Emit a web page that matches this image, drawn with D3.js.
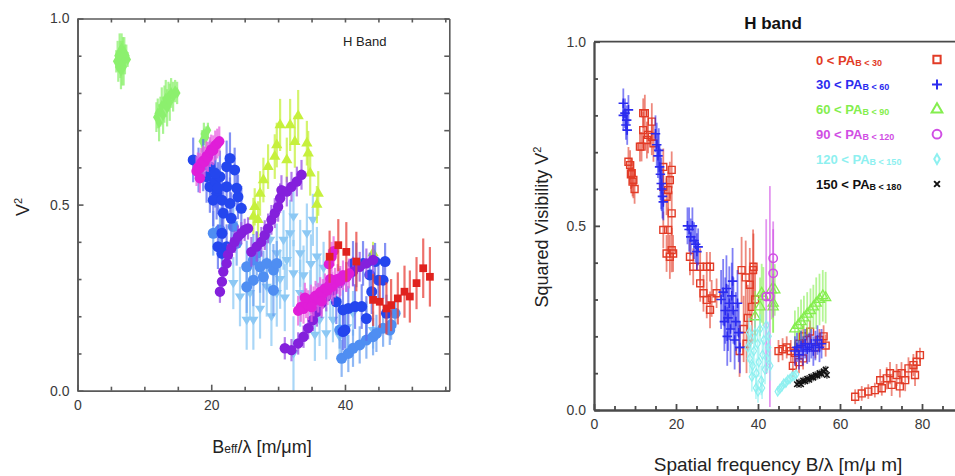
<!DOCTYPE html>
<html>
<head>
<meta charset="utf-8">
<script src="https://cdn.jsdelivr.net/npm/d3@7"></script>
<style>
  body { margin: 0; background: #fff; }
  svg { display: block; font-family: Arial, "Liberation Sans", Helvetica, sans-serif; }
</style>
</head>
<body>
<svg id="chart" width="955" height="476"></svg>
<script>
// ---------- Left panel: V^2 vs B_eff/lambda, H band  ([x, V2, err]) ----------
const leftGreen = [
  [5.8,0.885,0.03],[6.0,0.90,0.04],[6.1,0.87,0.04],[6.3,0.91,0.05],[6.4,0.89,0.05],[6.5,0.86,0.05],
  [6.6,0.92,0.04],[6.7,0.88,0.06],[6.8,0.90,0.05],[6.9,0.87,0.05],[7.0,0.91,0.04],[7.1,0.89,0.04],
  [7.3,0.90,0.03],[7.5,0.89,0.02],
  [11.8,0.735,0.04],[12.0,0.745,0.04],[12.2,0.72,0.05],[12.4,0.75,0.04],[12.6,0.765,0.05],[12.8,0.74,0.05],
  [13.0,0.77,0.05],[13.2,0.785,0.05],[13.4,0.76,0.05],[13.6,0.79,0.04],[13.8,0.775,0.05],[14.0,0.80,0.04],
  [14.3,0.79,0.04],[14.6,0.805,0.03],[14.9,0.80,0.03],
  [18.6,0.67,0.03],[18.9,0.69,0.03],[19.2,0.68,0.03],[19.5,0.70,0.02]
];
const leftSkyBlue = [
  [23.3,0.289,0.07],[24.3,0.253,0.08],[25.8,0.262,0.07],[26.3,0.19,0.08],[28.3,0.279,0.08],[29.8,0.262,0.09],
  [30.8,0.405,0.08],[31.8,0.423,0.09],[32.3,0.468,0.08],[33.3,0.369,0.09],[34.3,0.423,0.08],[35.2,0.459,0.07],
  [35.8,0.36,0.08],[32.3,0.315,0.09],[31.3,0.351,0.08],[29.8,0.369,0.08],[28.8,0.405,0.07],[33.3,0.262,0.09],
  [34.8,0.244,0.08],[36.2,0.279,0.08],[36.2,0.19,0.07],[37.2,0.154,0.07],[38.2,0.19,0.06],[39.2,0.145,0.06],
  [41.2,0.208,0.06],[43.2,0.19,0.05],[44.2,0.163,0.05],[32.3,0.10,0.10],[25.3,0.19,0.08],
  [30.3,0.30,0.08],[31.0,0.25,0.09],[33.8,0.31,0.08],[34.9,0.34,0.08],[36.8,0.33,0.07],[37.8,0.26,0.07],
  [27.3,0.22,0.08],[29.0,0.20,0.08],[35.5,0.15,0.07],[40.3,0.17,0.06]
];
const leftYellowGreen = [
  [26.3,0.468,0.05],[26.5,0.494,0.05],[27.0,0.459,0.05],[27.3,0.53,0.06],[27.8,0.566,0.06],[28.5,0.602,0.06],
  [29.5,0.629,0.06],[29.8,0.66,0.06],[30.3,0.714,0.07],[31.3,0.62,0.06],[31.8,0.714,0.07],[32.5,0.669,0.07],
  [33.0,0.738,0.07],[34.3,0.665,0.06],[34.5,0.638,0.06],[34.8,0.584,0.06],[36.0,0.53,0.06],[35.8,0.50,0.05],
  [44.2,0.37,0.03]
];
const leftCornflower = [
  [20.3,0.423,0.06],[21.3,0.432,0.06],[23.3,0.441,0.06],[23.8,0.396,0.06],
  [25.3,0.333,0.07],[26.3,0.351,0.07],[27.3,0.333,0.07],[28.3,0.342,0.07],[29.3,0.324,0.07],[26.3,0.297,0.07],
  [27.8,0.306,0.07],[25.3,0.279,0.07],[29.3,0.27,0.07],[26.8,0.369,0.06],[29.8,0.342,0.06],
  [39.5,0.087,0.05],[40.5,0.10,0.05],[41.2,0.114,0.05],[42.2,0.123,0.05],[43.2,0.136,0.05],[44.2,0.145,0.05],
  [44.7,0.154,0.05],[45.7,0.168,0.05],[46.7,0.163,0.04],[46.9,0.177,0.04],[47.5,0.208,0.04],[39.2,0.163,0.05]
];
const leftBlue = [
  [17.3,0.62,0.06],[18.1,0.593,0.06],[18.8,0.606,0.07],[19.3,0.575,0.07],[19.8,0.548,0.07],[20.6,0.562,0.07],
  [21.3,0.575,0.07],[22.3,0.602,0.07],[22.8,0.624,0.07],[23.5,0.593,0.06],[22.3,0.548,0.07],[20.8,0.53,0.07],
  [20.3,0.512,0.07],[21.6,0.512,0.07],[22.8,0.503,0.07],[24.0,0.521,0.06],[24.5,0.49,0.06],[21.8,0.477,0.07],
  [23.0,0.463,0.07],[21.6,0.423,0.07],[21.0,0.387,0.06],[22.3,0.387,0.06],[21.6,0.369,0.06],[19.8,0.602,0.07],
  [20.6,0.584,0.07],[21.0,0.544,0.07],[23.8,0.544,0.06],
  [39.7,0.159,0.05],[40.0,0.163,0.05],[40.5,0.221,0.06],[41.5,0.226,0.06],[42.5,0.226,0.06],[43.2,0.194,0.06],
  [44.0,0.266,0.06],[45.0,0.297,0.06],[43.7,0.311,0.06],[41.7,0.338,0.06],[41.2,0.342,0.06],[42.7,0.342,0.06],
  [44.5,0.347,0.05],[46.0,0.347,0.05],[38.7,0.239,0.06],[39.7,0.217,0.06],[46.2,0.208,0.05],[45.7,0.297,0.05]
];
const leftPurple = [
  [21.3,0.266,0.03],[21.6,0.293,0.03],[21.8,0.32,0.03],[22.3,0.342,0.03],[22.5,0.365,0.03],[23.0,0.383,0.03],
  [23.5,0.40,0.03],[24.0,0.414,0.03],[24.5,0.423,0.03],[25.0,0.432,0.03],[25.5,0.436,0.03],
  [26.0,0.373,0.04],[26.8,0.387,0.04],[27.5,0.40,0.04],[28.0,0.418,0.04],[28.5,0.436,0.04],[29.0,0.459,0.04],
  [29.5,0.477,0.04],[30.0,0.494,0.04],[30.3,0.517,0.04],[30.5,0.539,0.04],[31.3,0.535,0.04],[32.0,0.548,0.04],
  [32.8,0.562,0.04],[33.5,0.58,0.04],
  [31.0,0.114,0.03],[32.0,0.109,0.03],[33.0,0.127,0.03],[33.8,0.145,0.03],[34.5,0.168,0.03],[35.2,0.19,0.03],
  [35.8,0.212,0.04],[36.5,0.235,0.04],[37.2,0.253,0.04],[38.2,0.27,0.04],[39.2,0.289,0.04],[40.2,0.306,0.04],
  [41.2,0.32,0.04],[42.2,0.333,0.04],[43.2,0.342,0.04],[44.2,0.351,0.04]
];
const leftMagenta = [
  [17.8,0.59,0.04],[18.0,0.60,0.04],[18.3,0.598,0.04],[18.5,0.612,0.04],[18.8,0.618,0.04],[19.0,0.615,0.04],
  [19.3,0.63,0.04],[19.5,0.628,0.04],[19.8,0.641,0.04],[20.0,0.648,0.04],[20.3,0.646,0.04],[20.6,0.659,0.04],
  [20.9,0.664,0.04],[21.2,0.67,0.04],[18.3,0.571,0.04],
  [33.0,0.215,0.04],[33.4,0.225,0.04],[33.8,0.22,0.04],[34.2,0.235,0.04],[34.5,0.23,0.04],[34.9,0.245,0.04],
  [35.3,0.24,0.04],[35.6,0.255,0.04],[36.0,0.25,0.04],[36.3,0.265,0.04],[36.7,0.26,0.04],[37.0,0.275,0.04],
  [37.4,0.27,0.04],[37.7,0.285,0.04],[38.1,0.28,0.04],[38.5,0.29,0.04],[38.9,0.30,0.04],[39.3,0.295,0.04],
  [39.7,0.31,0.04],[40.2,0.305,0.04],[40.6,0.315,0.04],[38.0,0.36,0.04],[38.3,0.375,0.04],[37.6,0.34,0.04],
  [34.0,0.25,0.04],[35.0,0.225,0.04],[36.5,0.24,0.04],[37.8,0.30,0.04]
];
const leftRed = [
  [37.7,0.36,0.07],[39.0,0.391,0.07],[40.2,0.373,0.08],[41.7,0.347,0.08],[44.2,0.244,0.07],[45.2,0.239,0.07],
  [46.2,0.221,0.07],[46.9,0.23,0.07],[47.9,0.248,0.07],[48.9,0.266,0.07],[49.7,0.253,0.07],[50.7,0.289,0.07],
  [51.7,0.329,0.08],[52.7,0.306,0.08]
];

// ---------- Right panel: squared visibility vs spatial frequency, by baseline PA ----------
const pa0to30 = [
  [8.4,0.674,0.04],[8.8,0.665,0.04],[9.0,0.64,0.04],[9.2,0.643,0.04],[9.4,0.62,0.04],[9.6,0.625,0.05],[9.9,0.60,0.04],
  [12.0,0.806,0.04],[12.4,0.806,0.05],[14.1,0.783,0.05],[12.0,0.76,0.05],[13.2,0.747,0.05],[11.2,0.715,0.04],
  [14.1,0.742,0.05],[14.5,0.724,0.05],[12.9,0.733,0.05],[11.6,0.715,0.04],
  [16.9,0.66,0.05],[18.95,0.652,0.05],[18.5,0.624,0.05],[18.1,0.597,0.05],[17.7,0.579,0.05],[18.95,0.534,0.06],
  [16.9,0.606,0.05],[18.1,0.489,0.06],[16.9,0.489,0.05],[18.95,0.434,0.06],[18.5,0.416,0.06],[19.3,0.425,0.05],
  [17.7,0.425,0.05],
  [23.4,0.416,0.05],[24.2,0.389,0.05],[25.9,0.389,0.05],[27.5,0.389,0.04],[28.3,0.389,0.04],[25.9,0.344,0.05],
  [26.7,0.317,0.05],[27.5,0.299,0.05],[28.7,0.303,0.05],[29.9,0.317,0.04],[28.3,0.272,0.05],
  [36.0,0.38,0.09],[37.0,0.36,0.10],[38.0,0.34,0.10],[38.8,0.38,0.11],[38.9,0.389,0.09],[39.3,0.30,0.10],
  [38.5,0.28,0.10],[37.5,0.25,0.09],[36.5,0.22,0.09],[37.2,0.18,0.08],[35.5,0.16,0.07],
  [45.0,0.16,0.03],[46.0,0.165,0.03],[47.0,0.17,0.03],[48.0,0.16,0.03],[49.0,0.155,0.03],[50.0,0.18,0.03],
  [51.0,0.20,0.03],[52.0,0.19,0.03],[52.7,0.213,0.03],[54.0,0.17,0.03],[55.0,0.19,0.03],[56.0,0.20,0.03],
  [56.5,0.175,0.03],[50.0,0.13,0.03],[51.0,0.14,0.03],[48.5,0.12,0.03],
  [63.7,0.036,0.02],[65.3,0.045,0.02],[66.9,0.05,0.02],[68.5,0.054,0.02],[70.2,0.059,0.02],[69.8,0.081,0.03],
  [71.4,0.086,0.03],[72.6,0.068,0.03],[73.8,0.095,0.03],[75.0,0.10,0.03],[75.9,0.081,0.03],[76.7,0.113,0.03],
  [77.9,0.122,0.03],[78.7,0.131,0.03],[79.5,0.149,0.02],[78.3,0.095,0.03],[72.2,0.10,0.03],[74.6,0.064,0.03]
];
const pa30to60 = [
  [7.15,0.833,0.04],[7.56,0.806,0.04],[7.97,0.787,0.04],[7.8,0.774,0.04],[8.1,0.76,0.04],[7.15,0.80,0.04],[8.4,0.815,0.04],
  [15.0,0.75,0.05],[15.3,0.72,0.06],[15.6,0.69,0.06],[16.0,0.66,0.06],[16.2,0.64,0.07],[16.4,0.615,0.07],
  [16.5,0.60,0.06],[16.7,0.58,0.06],[16.9,0.565,0.05],[15.8,0.705,0.06],
  [22.8,0.50,0.05],[23.2,0.49,0.06],[23.6,0.47,0.05],[24.0,0.50,0.05],[24.4,0.46,0.05],[24.8,0.45,0.05],
  [25.1,0.43,0.05],[25.4,0.443,0.05],
  [31.0,0.30,0.08],[31.5,0.32,0.09],[32.0,0.27,0.09],[32.3,0.33,0.09],[32.7,0.25,0.09],[33.0,0.29,0.10],
  [33.3,0.22,0.09],[33.6,0.31,0.09],[34.0,0.27,0.09],[34.3,0.19,0.08],[34.6,0.24,0.08],[35.0,0.29,0.09],
  [35.3,0.21,0.08],[35.6,0.17,0.07],[32.5,0.20,0.08],[33.8,0.35,0.09],[31.8,0.24,0.08],
  [49.0,0.16,0.04],[49.5,0.17,0.04],[50.0,0.15,0.04],[50.5,0.175,0.04],[51.0,0.16,0.04],[51.5,0.18,0.04],
  [52.0,0.165,0.04],[52.5,0.17,0.04],[53.0,0.18,0.04],[53.5,0.16,0.04],[54.0,0.175,0.04],[54.5,0.19,0.04],
  [55.0,0.17,0.04],[55.5,0.18,0.04]
];
const pa60to90 = [
  [39.3,0.253,0.07],[40.5,0.28,0.08],[40.9,0.317,0.08],[41.3,0.308,0.08],[43.3,0.326,0.08],[43.7,0.29,0.08],
  [44.1,0.326,0.07],[43.7,0.28,0.07],
  [49.0,0.22,0.05],[49.8,0.23,0.05],[50.5,0.24,0.06],[51.2,0.25,0.06],[52.0,0.26,0.06],[52.8,0.27,0.06],
  [53.5,0.28,0.06],[54.2,0.29,0.07],[55.0,0.30,0.07],[55.8,0.31,0.07],[56.5,0.305,0.07]
];
const pa90to120 = [
  [43.7,0.412,0.10],[43.7,0.371,0.12],[42.0,0.308,0.21],[42.9,0.308,0.30]
];
const pa120to150 = [
  [37.5,0.17,0.04],[38.0,0.14,0.04],[38.3,0.19,0.04],[38.7,0.12,0.04],[39.0,0.16,0.04],[39.3,0.21,0.04],
  [39.6,0.10,0.04],[39.9,0.18,0.04],[40.2,0.13,0.04],[40.5,0.22,0.04],[40.8,0.08,0.04],[41.1,0.15,0.04],
  [41.4,0.19,0.04],[41.7,0.11,0.04],[42.0,0.23,0.04],[42.3,0.14,0.04],[42.6,0.20,0.04],[38.5,0.09,0.04],
  [39.5,0.06,0.03],[40.0,0.05,0.03],[41.0,0.06,0.03],[42.5,0.17,0.04],[43.0,0.12,0.04],[37.8,0.21,0.04],
  [44.8,0.05,0.01],[45.3,0.057,0.01],[45.8,0.063,0.01],[46.3,0.072,0.01],[46.8,0.074,0.01],[47.3,0.082,0.01],
  [47.8,0.084,0.01],[48.3,0.091,0.01],[48.8,0.092,0.01],[49.3,0.097,0.01]
];
const pa150to180 = [
  [49.5,0.07,0.01],[50.0,0.075,0.01],[50.5,0.07,0.01],[51.0,0.08,0.01],[51.5,0.078,0.01],[52.0,0.085,0.01],
  [52.5,0.082,0.01],[53.0,0.09,0.01],[53.5,0.088,0.01],[54.0,0.095,0.01],[54.5,0.093,0.01],[55.0,0.10,0.01],
  [55.5,0.098,0.01],[56.0,0.105,0.01],[56.5,0.11,0.01],[56.8,0.095,0.01]
];

// legend ranges of baseline position angle
const paRanges = [[0, 30], [30, 60], [60, 90], [90, 120], [120, 150], [150, 180]];

// ticks
const leftXMajor = [0, 20, 40];
const leftXMinor = [5, 10, 15, 25, 30, 35, 45, 50, 55];
const leftYMajor = [0, 0.5, 1.0];
const leftYMinor = [0.1, 0.2, 0.3, 0.4, 0.6, 0.7, 0.8, 0.9];
const rightXMajor = [0, 20, 40, 60, 80];
const rightXMinor = [5, 10, 15, 25, 30, 35, 45, 50, 55, 65, 70, 75, 85];
const rightYMajor = [0, 0.5, 1.0];
const rightYMinor = [0.1, 0.2, 0.3, 0.4, 0.6, 0.7, 0.8, 0.9];

// ---------- drawing ----------
const svg = d3.select("#chart");
const fmtY = d3.format(".1f");
const fmtX = d3.format("d");

function styleAxis(sel, color, width) {
  sel.selectAll(".domain").attr("stroke", color).attr("stroke-width", width);
  sel.selectAll(".tick line").attr("stroke", color).attr("stroke-width", width);
  sel.selectAll(".tick text").attr("fill", "#3a3a3a").attr("font-size", 14);
}

function errorBars(g, x, y, data, color, width, opacity) {
  g.append("g").selectAll("line").data(data).join("line")
    .attr("x1", d => x(d[0])).attr("x2", d => x(d[0]))
    .attr("y1", d => y(Math.max(0, d[1] - d[2]))).attr("y2", d => y(d[1] + d[2]))
    .attr("stroke", color).attr("stroke-width", width).attr("stroke-opacity", opacity);
}

function markers(g, x, y, data, type, size, fill, stroke, sw) {
  const sym = d3.symbol().type(type).size(size);
  g.append("g").selectAll("path").data(data).join("path")
    .attr("d", sym)
    .attr("transform", d => `translate(${x(d[0])},${y(d[1])})`)
    .attr("fill", fill).attr("stroke", stroke).attr("stroke-width", sw);
}

// custom marker shapes
const triDown = { draw(ctx, size) { const s = Math.sqrt(size) * 0.62; ctx.moveTo(-s, -s * 0.6); ctx.lineTo(s, -s * 0.6); ctx.lineTo(0, s); ctx.closePath(); } };
const xMark = { draw(ctx, size) { const s = Math.sqrt(size) / 2; ctx.moveTo(-s, -s); ctx.lineTo(s, s); ctx.moveTo(-s, s); ctx.lineTo(s, -s); } };
const plusMark = { draw(ctx, size) { const s = Math.sqrt(size) / 2; ctx.moveTo(-s, 0); ctx.lineTo(s, 0); ctx.moveTo(0, -s); ctx.lineTo(0, s); } };

// ===== Left panel =====
const xL = d3.scaleLinear().domain([0, 55.6]).range([77.5, 449.3]);
const yL = d3.scaleLinear().domain([0, 1]).range([390.7, 18.5]);
const gL = svg.append("g");

const leftSeries = [
  { data: leftGreen,       color: "#8cf06e", err: "#8cf06e", type: d3.symbolDiamond,  size: 40 },
  { data: leftSkyBlue,     color: "#8cc8f4", err: "#8cc8f4", type: triDown,           size: 70 },
  { data: leftYellowGreen, color: "#c6f03c", err: "#c6f03c", type: d3.symbolTriangle, size: 55 },
  { data: leftCornflower,  color: "#4f8ef2", err: "#6aa0f2", type: d3.symbolCircle,   size: 95 },
  { data: leftBlue,        color: "#2446ee", err: "#5a6cf0", type: d3.symbolCircle,   size: 95 },
  { data: leftPurple,      color: "#8420dc", err: "#9a50e6", type: d3.symbolCircle,   size: 85 },
  { data: leftMagenta,     color: "#e01ed8", err: "#e860e0", type: d3.symbolCircle,   size: 85 },
  { data: leftRed,         color: "#e0221e", err: "#e8403a", type: d3.symbolSquare,   size: 60 }
];
leftSeries.forEach(s => {
  errorBars(gL, xL, yL, s.data, s.err, 2.2, 0.75);
  markers(gL, xL, yL, s.data, s.type, s.size, s.color, "none", 0);
});

// frame with inward ticks on all four sides
{
  const lc = "#5a5a5a", lw = 1.6;
  const bottom = gL.append("g").attr("transform", `translate(0,${yL(0)})`);
  bottom.call(d3.axisBottom(xL).tickValues(leftXMajor).tickSizeInner(-6).tickSizeOuter(0).tickPadding(9).tickFormat(fmtX));
  styleAxis(bottom, lc, lw);
  const bottomMinor = gL.append("g").attr("transform", `translate(0,${yL(0)})`)
    .call(d3.axisBottom(xL).tickValues(leftXMinor).tickSizeInner(-4).tickSizeOuter(0).tickFormat(""));
  styleAxis(bottomMinor, lc, lw);
  const top = gL.append("g").attr("transform", `translate(0,${yL(1)})`)
    .call(d3.axisTop(xL).tickValues(leftXMajor.concat(leftXMinor)).tickSizeInner(-4).tickSizeOuter(0).tickFormat(""));
  styleAxis(top, lc, lw);
  const left = gL.append("g").attr("transform", `translate(${xL(0)},0)`)
    .call(d3.axisLeft(yL).tickValues(leftYMajor).tickSizeInner(-6).tickSizeOuter(0).tickPadding(8).tickFormat(fmtY));
  styleAxis(left, lc, lw);
  const leftMinor = gL.append("g").attr("transform", `translate(${xL(0)},0)`)
    .call(d3.axisLeft(yL).tickValues(leftYMinor).tickSizeInner(-4).tickSizeOuter(0).tickFormat(""));
  styleAxis(leftMinor, lc, lw);
  const right = gL.append("g").attr("transform", `translate(${xL(55.6)},0)`)
    .call(d3.axisRight(yL).tickValues(leftYMajor.concat(leftYMinor)).tickSizeInner(-5).tickSizeOuter(0).tickFormat(""));
  styleAxis(right, lc, lw);
}

gL.append("text").attr("x", 343).attr("y", 46).attr("font-size", 13).attr("fill", "#222").text("H Band");
gL.append("text").attr("transform", "translate(29,207) rotate(-90)").attr("text-anchor", "middle")
  .attr("font-size", 18).attr("fill", "#222")
  .call(t => { t.append("tspan").text("V"); t.append("tspan").attr("font-size", 11).attr("dy", -7).text("2"); });
gL.append("text").attr("x", 262).attr("y", 453).attr("text-anchor", "middle").attr("font-size", 18).attr("fill", "#222")
  .call(t => {
    t.append("tspan").text("B");
    t.append("tspan").attr("font-size", 12).text("eff");
    t.append("tspan").text("/λ [m/μm]");
  });

// ===== Right panel =====
const xR = d3.scaleLinear().domain([0, 90]).range([594, 963]);
const yR = d3.scaleLinear().domain([0, 1]).range([410, 41.7]);
const gR = svg.append("g");

const rightSeries = [
  { data: pa0to30,    color: "#e23b26", label: "0 < PA",   type: d3.symbolSquare,   size: 48, sw: 1.4 },
  { data: pa30to60,   color: "#2b2bef", label: "30 < PA",  type: plusMark,          size: 90, sw: 1.6 },
  { data: pa60to90,   color: "#84ee4e", label: "60 < PA",  type: d3.symbolTriangle, size: 45, sw: 1.3 },
  { data: pa90to120,  color: "#d04ee4", label: "90 < PA",  type: d3.symbolCircle,   size: 55, sw: 1.5 },
  { data: pa120to150, color: "#8ef0f0", label: "120 < PA", type: d3.symbolDiamond,  size: 24, sw: 1.2 },
  { data: pa150to180, color: "#111111", label: "150 < PA", type: xMark,             size: 30, sw: 1.6 }
];
const drawOrder = [0, 2, 3, 1, 4, 5];
drawOrder.forEach(i => {
  const s = rightSeries[i];
  errorBars(gR, xR, yR, s.data, s.color, 1.8, 0.6);
  markers(gR, xR, yR, s.data, s.type, s.size, "none", s.color, s.sw);
});

{
  const lc = "#4a4a4a", lw = 1.8;
  const bottom = gR.append("g").attr("transform", `translate(0,${yR(0)})`)
    .call(d3.axisBottom(xR).tickValues(rightXMajor).tickSizeInner(-6).tickSizeOuter(0).tickPadding(9).tickFormat(fmtX));
  styleAxis(bottom, lc, lw);
  const bottomMinor = gR.append("g").attr("transform", `translate(0,${yR(0)})`)
    .call(d3.axisBottom(xR).tickValues(rightXMinor).tickSizeInner(-4).tickSizeOuter(0).tickFormat(""));
  styleAxis(bottomMinor, lc, lw);
  const left = gR.append("g").attr("transform", `translate(${xR(0)},0)`)
    .call(d3.axisLeft(yR).tickValues(rightYMajor).tickSizeInner(-6).tickSizeOuter(0).tickPadding(8).tickFormat(fmtY));
  styleAxis(left, lc, lw);
  const leftMinor = gR.append("g").attr("transform", `translate(${xR(0)},0)`)
    .call(d3.axisLeft(yR).tickValues(rightYMinor).tickSizeInner(-4).tickSizeOuter(0).tickFormat(""));
  styleAxis(leftMinor, lc, lw);
  gR.append("line").attr("x1", xR(0)).attr("x2", xR(90)).attr("y1", yR(1)).attr("y2", yR(1))
    .attr("stroke", lc).attr("stroke-width", lw);
}

gR.append("text").attr("x", 773).attr("y", 29).attr("text-anchor", "middle")
  .attr("font-size", 17).attr("font-weight", "bold").attr("fill", "#111").text("H band");
gR.append("text").attr("transform", "translate(548,227) rotate(-90)").attr("text-anchor", "middle")
  .attr("font-size", 18).attr("fill", "#222")
  .call(t => { t.append("tspan").text("Squared Visibility V"); t.append("tspan").attr("font-size", 11).attr("dy", -7).text("2"); });
gR.append("text").attr("x", 778).attr("y", 471).attr("text-anchor", "middle").attr("font-size", 19).attr("fill", "#222")
  .text("Spatial frequency B/λ [m/μ m]");

// legend
const legendY = d3.scalePoint().domain(d3.range(paRanges.length)).range([59.5, 184]);
const leg = gR.append("g");
rightSeries.forEach((s, i) => {
  const yy = legendY(i);
  leg.append("text").attr("x", 816).attr("y", yy + 5).attr("fill", s.color).attr("font-weight", "bold")
    .attr("font-size", 13)
    .call(t => {
      t.append("tspan").text(s.label);
      t.append("tspan").attr("font-size", 9).attr("dy", 1).text(`B < ${paRanges[i][1]}`);
    });
  leg.append("path").attr("d", d3.symbol().type(s.type).size(s.size * 1.1)())
    .attr("transform", `translate(937,${yy})`)
    .attr("fill", "none").attr("stroke", s.color).attr("stroke-width", 2);
});
</script>
</body>
</html>
